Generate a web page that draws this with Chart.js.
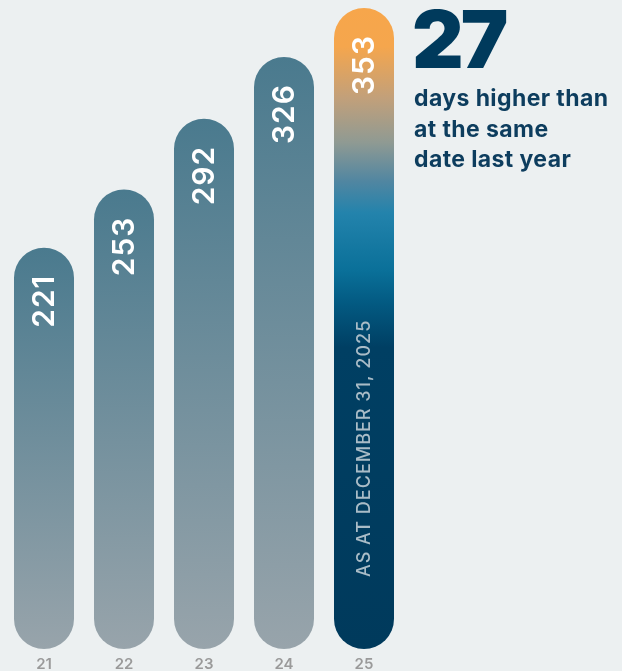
<!DOCTYPE html>
<html>
<head>
<meta charset="utf-8">
<script src="https://cdn.jsdelivr.net/npm/chart.js@4.4.1/dist/chart.umd.min.js"></script>
<style>
    html, body { margin: 0; padding: 0; background: #ecf0f1; }
    #wrap { position: relative; width: 622px; height: 671px; }
    #days { position: absolute; left: 412px; top: -1px; font-family: Inter, sans-serif; font-weight: 900; font-size: 80px; color: #003a5c; letter-spacing: -3px; line-height: 1; }
    #note { position: absolute; left: 414px; top: 83px; font-family: Inter, sans-serif; font-weight: 700; font-size: 23px; letter-spacing: 0.4px; line-height: 30.5px; color: #0d3d5e; }
</style>
</head>
<body>
<div id="wrap">
    <canvas id="daysChart" width="622" height="671"></canvas>
    <div id="days">27</div>
    <div id="note">days higher than<br>at the same<br>date last year</div>
</div>
<script>
const years = ['21', '22', '23', '24', '25'];
const dayCounts = [221, 253, 292, 326, 353];
const asAtLabel = 'AS AT DECEMBER 31, 2025';

// gradient stops, top of bar -> bottom of bar
const pastStops = [[0, '#4a7a8e'], [1, '#98a4ab']];
const currentStops = [
    [0, '#f7a64b'], [0.06, '#f5a64d'], [0.14, '#c2a07a'], [0.21, '#8f9a93'],
    [0.27, '#5186a1'], [0.32, '#2383ac'], [0.41, '#0a7099'], [0.46, '#035a82'],
    [0.53, '#003f63'], [1, '#003a5c']
];

function barGradient(c) {
    const chart = c.chart;
    if (!chart.chartArea || c.type !== 'data') {
        return '#4a7a8e';
    }
    const y = chart.scales.y;
    const top = y.getPixelForValue(c.raw);
    const bottom = y.getPixelForValue(0);
    const g = chart.ctx.createLinearGradient(0, top, 0, bottom);
    const stops = c.dataIndex === dayCounts.length - 1 ? currentStops : pastStops;
    stops.forEach(([pos, col]) => g.addColorStop(pos, col));
    return g;
}

const barText = {
    id: 'barText',
    afterDatasetsDraw(chart) {
        const ctx = chart.ctx;
        const bars = chart.getDatasetMeta(0).data;
        ctx.save();
        bars.forEach((bar, i) => {
            ctx.save();
            ctx.translate(bar.x + 1, bar.y + 27);
            ctx.rotate(-Math.PI / 2);
            ctx.fillStyle = '#ffffff';
            ctx.font = '600 30px Inter, sans-serif';
            ctx.letterSpacing = '1px';
            ctx.textAlign = 'right';
            ctx.textBaseline = 'middle';
            ctx.fillText(String(dayCounts[i]), 0, 0);
            ctx.restore();
        });
        const last = bars[bars.length - 1];
        ctx.translate(last.x + 1, 577);
        ctx.rotate(-Math.PI / 2);
        ctx.fillStyle = '#a9bcc7';
        ctx.font = '500 18px Inter, sans-serif';
        ctx.letterSpacing = '1px';
        ctx.textAlign = 'left';
        ctx.textBaseline = 'middle';
        ctx.fillText(asAtLabel, 0, 0);
        ctx.restore();
    }
};

new Chart(document.getElementById('daysChart'), {
    type: 'bar',
    data: {
        labels: years,
        datasets: [{
            data: dayCounts,
            backgroundColor: barGradient,
            borderRadius: 30,
            borderSkipped: false,
            barPercentage: 0.75,
            categoryPercentage: 1,
        }]
    },
    options: {
        responsive: false,
        animation: false,
        layout: { padding: { left: 4, right: 218, top: 8, bottom: 0 } },
        plugins: { legend: { display: false }, tooltip: { enabled: false } },
        scales: {
            x: {
                grid: { display: false, drawTicks: false },
                border: { display: false },
                ticks: { color: '#9a9a9a', padding: 6, font: { family: 'Inter', size: 15, weight: '600' } },
                afterFit: (scale) => { scale.height = 22; }
            },
            y: { display: false, min: 0, max: 353 }
        }
    },
    plugins: [barText]
});
</script>
</body>
</html>
